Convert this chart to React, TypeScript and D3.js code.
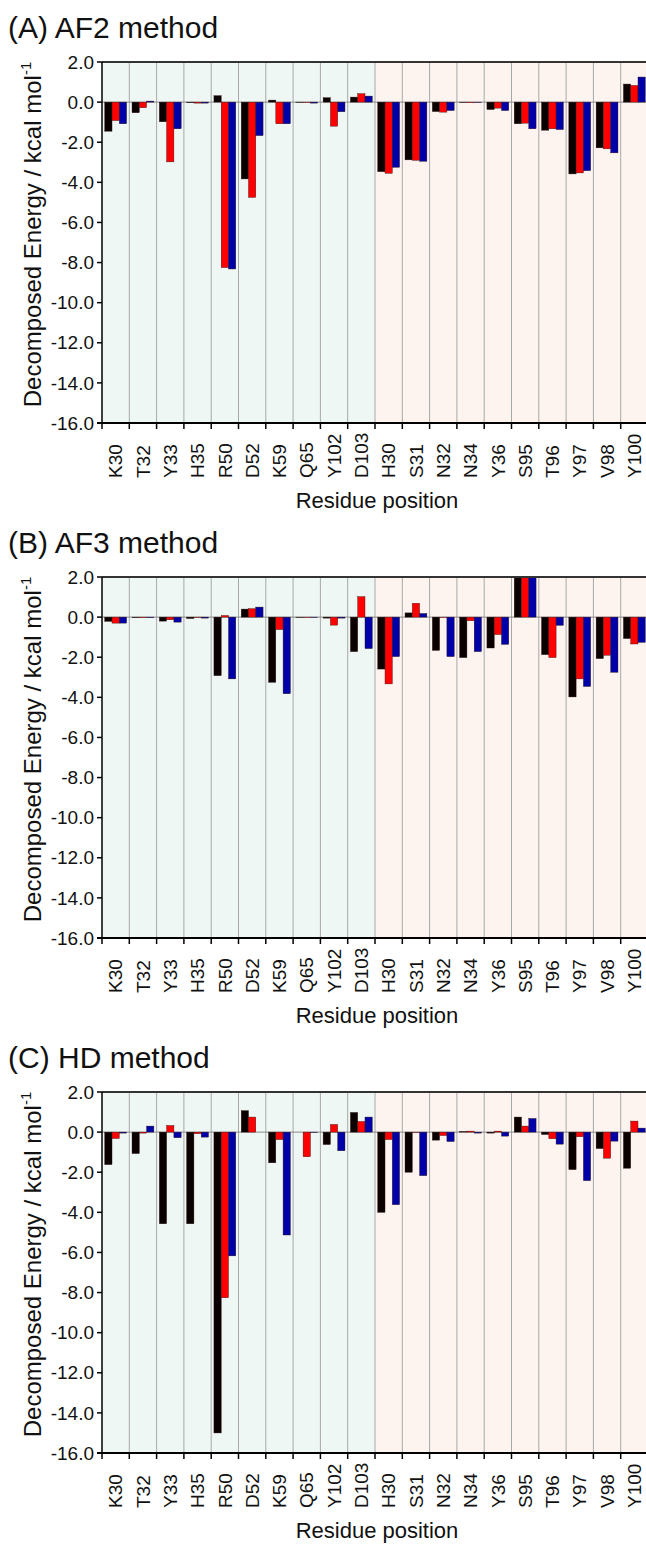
import React from 'react';
import * as d3 from 'd3';

// residue labels, first 10 = green chain, last 10 = pink chain
const residues = ['K30', 'T32', 'Y33', 'H35', 'R50', 'D52', 'K59', 'Q65', 'Y102', 'D103',
    'H30', 'S31', 'N32', 'N34', 'Y36', 'S95', 'T96', 'Y97', 'V98', 'Y100'];
const chainA = residues.slice(0, 10);

const yTicks = [2, 0, -2, -4, -6, -8, -10, -12, -14, -16];

// (A) AF2
const af2Black = [-1.45, -0.53, -0.98, -0.03, 0.32, -3.83, 0.10, -0.02, 0.22, 0.25, -3.47, -2.88, -0.47, -0.02, -0.37, -1.08, -1.40, -3.58, -2.28, 0.90];
const af2Red = [-0.92, -0.28, -2.98, -0.05, -8.25, -4.75, -1.08, -0.02, -1.20, 0.42, -3.55, -2.90, -0.50, -0.03, -0.30, -1.05, -1.33, -3.53, -2.33, 0.83];
const af2Blue = [-1.08, 0.05, -1.33, -0.05, -8.32, -1.67, -1.08, -0.05, -0.48, 0.30, -3.25, -2.95, -0.42, -0.02, -0.42, -1.33, -1.37, -3.42, -2.53, 1.25];

// (B) AF3
const af3Black = [-0.21, -0.03, -0.20, -0.07, -2.92, 0.40, -3.25, -0.02, -0.05, -1.72, -2.59, 0.21, -1.66, -2.02, -1.54, 2.0, -1.87, -3.98, -2.07, -1.07];
const af3Red = [-0.30, -0.03, -0.13, -0.02, 0.08, 0.42, -0.62, -0.02, -0.40, 1.02, -3.33, 0.69, -0.02, -0.18, -0.87, 2.0, -2.02, -3.08, -1.90, -1.34];
const af3Blue = [-0.30, -0.03, -0.25, -0.05, -3.08, 0.50, -3.82, -0.02, -0.05, -1.57, -1.97, 0.18, -1.97, -1.72, -1.36, 2.0, -0.41, -3.46, -2.75, -1.26];

// (C) HD
const hdBlack = [-1.62, -1.07, -4.57, -4.57, -15.0, 1.07, -1.53, 0.0, -0.62, 0.98, -4.0, -2.0, -0.40, 0.03, -0.05, 0.75, -0.12, -1.87, -0.82, -1.80];
const hdRed = [-0.32, -0.05, 0.33, -0.08, -8.26, 0.75, -0.37, -1.23, 0.38, 0.53, -0.37, -0.02, -0.17, 0.05, 0.05, 0.30, -0.33, -0.23, -1.30, 0.55];
const hdBlue = [-0.05, 0.30, -0.28, -0.25, -6.17, 0.0, -5.13, -0.02, -0.93, 0.75, -3.62, -2.17, -0.47, -0.05, -0.20, 0.68, -0.60, -2.42, -0.45, 0.20];

const seriesColors = ['#0a0000', '#ff0000', '#0000a8'];
const font = 'Liberation Sans, Arial, Helvetica, sans-serif';

const left = 102;
const right = 648;
const plotH = 361;

type PanelProps = { id: string; title: string; top: number; series: number[][] };

function Panel({ id, title, top, series }: PanelProps) {
    const bottom = top + plotH;
    const x = d3.scaleBand().domain(residues).range([left, right]);
    const xs = d3.scaleBand().domain(['0', '1', '2'])
        .range([x.bandwidth() * 0.1, x.bandwidth() * 0.9]);
    const y = d3.scaleLinear().domain([-16, 2]).range([bottom, top]);
    const splitX = x(residues[chainA.length]) as number;

    return (
        <g>
            <defs>
                <clipPath id={'clip' + id}>
                    <rect x={left} y={top} width={right - left} height={plotH} />
                </clipPath>
            </defs>
            {/* backgrounds */}
            <rect x={left} y={top} width={splitX - left} height={plotH} fill="#eef7f3" />
            <rect x={splitX} y={top} width={right - splitX} height={plotH} fill="#fdf4f0" />
            {/* gridlines at band edges */}
            {residues.slice(1).map(r => (
                <line key={r} x1={x(r)} x2={x(r)} y1={top} y2={bottom} stroke="#a8a8a8" strokeWidth={1} />
            ))}
            <line x1={left} x2={right} y1={y(0)} y2={y(0)} stroke="#8a8a8a" strokeWidth={1} />
            {/* bars */}
            <g clipPath={`url(#clip${id})`}>
                {series.map((vals, si) => vals.map((v, i) => (
                    <rect key={si + '-' + i}
                        x={(x(residues[i]) as number) + (xs(String(si)) as number)}
                        y={y(Math.max(0, v))}
                        width={xs.bandwidth()}
                        height={Math.abs(y(v) - y(0))}
                        fill={seriesColors[si]}
                        stroke="#301010" strokeWidth={0.4} />
                )))}
            </g>
            {/* frame */}
            <line x1={left} x2={right} y1={top} y2={top} stroke="#333" strokeWidth={2} />
            <line x1={left} x2={left} y1={top} y2={bottom} stroke="#000" strokeWidth={1.5} />
            <line x1={left - 5} x2={right} y1={bottom} y2={bottom} stroke="#000" strokeWidth={2} />
            {/* y ticks */}
            {yTicks.map(t => (
                <g key={t}>
                    <line x1={left - 5} x2={left} y1={y(t)} y2={y(t)} stroke="#000" strokeWidth={1.5} />
                    <text x={left - 8} y={y(t)} dy="0.35em" textAnchor="end" fontSize={19} fontFamily={font} fill="#111">
                        {t.toFixed(1)}
                    </text>
                </g>
            ))}
            {/* x ticks at band edges + labels */}
            {residues.map(r => (
                <line key={'t' + r} x1={x(r)} x2={x(r)} y1={bottom} y2={bottom + 6} stroke="#000" strokeWidth={1.5} />
            ))}
            {residues.map(r => (
                <text key={'l' + r}
                    transform={`translate(${(x(r) as number) + x.bandwidth() / 2},${bottom + 55}) rotate(-90)`}
                    dy="0.35em" textAnchor="start" fontSize={19} fontFamily={font} fill="#111">
                    {r}
                </text>
            ))}
            <text x={(left + right) / 2 + 2} y={bottom + 85} textAnchor="middle" fontSize={22} fontFamily={font} fill="#111">
                Residue position
            </text>
            <text transform={`translate(41,${(top + bottom) / 2 - 8}) rotate(-90)`} textAnchor="middle"
                fontSize={24} fontFamily={font} fill="#111">
                Decomposed Energy / kcal mol<tspan fontSize={15} dy={-10}>-1</tspan>
            </text>
            <text x={8} y={top - 24} fontSize={30} fontFamily={font} fill="#111">{title}</text>
        </g>
    );
}

export default function App() {
    return (
        <svg width={646} height={1546} style={{ position: 'absolute', left: 0, top: 0, background: '#fff' }}>
            <rect width={646} height={1546} fill="#fff" />
            <Panel id="a" title="(A) AF2 method" top={62} series={[af2Black, af2Red, af2Blue]} />
            <Panel id="b" title="(B) AF3 method" top={577} series={[af3Black, af3Red, af3Blue]} />
            <Panel id="c" title="(C) HD method" top={1092} series={[hdBlack, hdRed, hdBlue]} />
        </svg>
    );
}
